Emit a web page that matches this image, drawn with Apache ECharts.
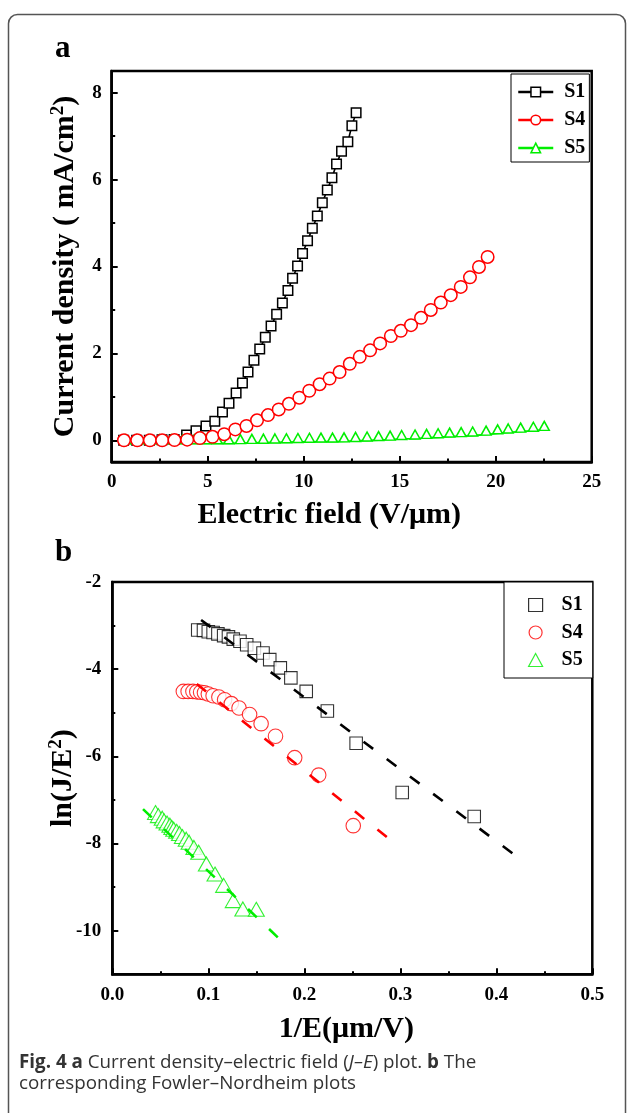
<!DOCTYPE html>
<html><head><meta charset="utf-8">
<script src="https://cdn.jsdelivr.net/npm/echarts@6/dist/echarts.min.js"></script>
<style>html,body{margin:0;padding:0;background:#fff}#c{width:629px;height:1113px}</style>
</head><body><div id="c"></div>
<script>
// ---- Panel a: J–E data ----
const jeX_S1 = [0.62,1.30,1.96,2.62,3.25,3.90,4.39,4.91,5.37,5.77,6.11,6.48,6.81,7.10,7.41,7.71,8.00,8.30,8.59,8.89,9.18,9.42,9.68,9.94,10.20,10.45,10.71,10.97,11.23,11.47,11.71,11.97,12.30,12.51,12.73];
const jeY_S1 = [0.00,0.00,0.00,0.01,0.02,0.12,0.22,0.33,0.44,0.65,0.85,1.09,1.32,1.57,1.84,2.10,2.37,2.63,2.90,3.16,3.45,3.73,4.01,4.30,4.59,4.88,5.16,5.47,5.76,6.04,6.36,6.65,6.87,7.24,7.54];
const jeX_S4 = [0.64,1.33,1.99,2.63,3.27,3.93,4.59,5.25,5.86,6.44,7.02,7.57,8.14,8.70,9.23,9.77,10.29,10.83,11.35,11.87,12.40,12.92,13.46,13.98,14.54,15.06,15.59,16.11,16.62,17.14,17.66,18.18,18.66,19.13,19.58];
const jeY_S4 = [0.00,0.00,0.00,0.00,0.005,0.015,0.05,0.08,0.14,0.25,0.33,0.46,0.58,0.71,0.84,0.98,1.14,1.29,1.42,1.57,1.76,1.92,2.07,2.23,2.40,2.52,2.65,2.82,3.00,3.17,3.34,3.53,3.75,3.99,4.22];
const jeX_S5 = [0.7,1.3,1.9,2.5,3.1,3.7,4.3,4.9,5.5,6.1,6.7,7.3,7.9,8.5,9.1,9.7,10.3,10.9,11.5,12.1,12.7,13.3,13.9,14.5,15.1,15.8,16.4,17.0,17.6,18.2,18.8,19.5,20.1,20.65,21.3,21.96,22.53];
const jeY_S5 = [-0.07,-0.07,-0.07,-0.07,-0.07,-0.07,-0.07,-0.07,-0.07,-0.07,-0.065,-0.06,-0.055,-0.05,-0.045,-0.04,-0.035,-0.03,-0.03,-0.025,-0.015,-0.005,0.005,0.015,0.03,0.04,0.055,0.07,0.085,0.095,0.11,0.13,0.16,0.18,0.20,0.22,0.24];
const jeYTicks = [0,2,4,6,8];
const jeYMinor = [1,3,5,7];

// ---- Panel b: Fowler–Nordheim data ----
const fnX_S1 = [0.089,0.095,0.100,0.105,0.110,0.116,0.121,0.126,0.133,0.140,0.148,0.157,0.164,0.175,0.186,0.202,0.224,0.254,0.302,0.377];
const fnY_S1 = [-3.10,-3.11,-3.14,-3.16,-3.19,-3.23,-3.26,-3.31,-3.36,-3.44,-3.52,-3.63,-3.78,-3.97,-4.20,-4.51,-4.96,-5.70,-6.83,-7.38];
const fnX_S4 = [0.074,0.079,0.084,0.088,0.092,0.096,0.100,0.105,0.111,0.117,0.124,0.132,0.143,0.155,0.170,0.190,0.215,0.251];
const fnY_S4 = [-4.51,-4.51,-4.51,-4.52,-4.53,-4.54,-4.57,-4.61,-4.64,-4.70,-4.79,-4.89,-5.04,-5.25,-5.54,-6.03,-6.43,-7.59];
const fnX_S5 = [0.045,0.048,0.052,0.054,0.057,0.060,0.062,0.064,0.067,0.070,0.073,0.077,0.080,0.085,0.090,0.098,0.107,0.116,0.126,0.136,0.150];
const fnY_S5 = [-7.29,-7.36,-7.42,-7.48,-7.53,-7.58,-7.63,-7.67,-7.72,-7.77,-7.84,-7.90,-7.97,-8.09,-8.20,-8.47,-8.70,-8.96,-9.31,-9.50,-9.51];
const fitX_S1 = [0.0925,0.419], fitY_S1 = [-2.87,-8.26];
const fitX_S4 = [0.088,0.292],  fitY_S4 = [-4.34,-7.96];
const fitX_S5 = [0.032,0.178],  fitY_S5 = [-7.21,-10.27];
const fnYTicks = [-10,-8,-6,-4,-2];
const fnYMinor = [-9,-7,-5,-3];

const legendNames = ['S1','S4','S5'];

const zip = (xs, ys) => xs.map((x, i) => [x, ys[i]]);
const SERIF = 'Liberation Serif';
const labelStyle = {fontFamily: SERIF, fontWeight: 'bold', fontSize: 19, color: '#000'};
const titleStyle = {fontFamily: SERIF, fontWeight: 'bold', fontSize: 30, color: '#000'};
const axisLineStyle = {onZero: false, lineStyle: {color: '#000', width: 2.5}};
const tickStyle = {color: '#000', width: 2};

const chart = echarts.init(document.getElementById('c'), null, {renderer: 'canvas'});
const supRich = {
  m: {fontFamily: SERIF, fontWeight: 'bold', fontSize: 30, color: '#000', verticalAlign: 'bottom', lineHeight: 32},
  s: {fontFamily: SERIF, fontWeight: 'bold', fontSize: 19, color: '#000', verticalAlign: 'top', lineHeight: 19}
};

const option = {
  animation: false,
  backgroundColor: '#fff',
  grid: [
    {left: 111.7, top: 71, width: 480, height: 391, show: true, borderColor: '#000', borderWidth: 2.5},
    {left: 112.3, top: 582, width: 480, height: 392.3, show: true, borderColor: '#000', borderWidth: 2.5}
  ],
  xAxis: [
    {gridIndex: 0, type: 'value', min: 0, max: 25, interval: 5,
     axisLine: axisLineStyle,
     axisTick: {inside: true, length: 6, lineStyle: tickStyle},
     minorTick: {show: true, splitNumber: 2, length: 3.5, lineStyle: tickStyle},
     splitLine: {show: false},
     axisLabel: Object.assign({margin: 11}, labelStyle),
     name: 'Electric field (V/μm)', nameLocation: 'middle', nameGap: 38, nameMoveOverlap: false,
     nameTextStyle: Object.assign({padding: [0, 45, 0, 0]}, titleStyle)},
    {gridIndex: 1, type: 'value', min: 0, max: 0.5, interval: 0.1,
     axisLine: axisLineStyle,
     axisTick: {inside: true, length: 6, lineStyle: tickStyle},
     minorTick: {show: true, splitNumber: 2, length: 3, lineStyle: tickStyle},
     splitLine: {show: false},
     axisLabel: Object.assign({margin: 11, formatter: v => v.toFixed(1)}, labelStyle),
     name: '1/E(μm/V)', nameLocation: 'middle', nameGap: 40, nameMoveOverlap: false,
     nameTextStyle: Object.assign({padding: [0, 12, 0, 0]}, titleStyle)}
  ],
  yAxis: [
    {gridIndex: 0, type: 'value', min: -0.5, max: 8.5, position: 'left',
     axisLine: axisLineStyle,
     axisTick: {inside: true, length: 6, lineStyle: tickStyle, customValues: jeYTicks},
     splitLine: {show: false},
     axisLabel: Object.assign({margin: 10, customValues: jeYTicks}, labelStyle),
     name: '{m|Current density ( mA/cm}{s|2}{m|)}', nameLocation: 'middle', nameGap: 31, nameMoveOverlap: false,
     nameTextStyle: Object.assign({rich: supRich, lineHeight: 44}, titleStyle)},
    {gridIndex: 0, type: 'value', min: -0.5, max: 8.5, position: 'left',
     axisLine: {show: false, onZero: false}, axisLabel: {show: false}, splitLine: {show: false},
     axisTick: {inside: true, length: 3.5, lineStyle: tickStyle, customValues: jeYMinor}},
    {gridIndex: 1, type: 'value', min: -11, max: -2, position: 'left',
     axisLine: axisLineStyle,
     axisTick: {inside: true, length: 6, lineStyle: tickStyle, customValues: fnYTicks},
     splitLine: {show: false},
     axisLabel: Object.assign({margin: 11, customValues: fnYTicks}, labelStyle),
     name: '{m|ln(J/E}{s|2}{m|)}', nameLocation: 'middle', nameGap: 34, nameMoveOverlap: false,
     nameTextStyle: Object.assign({rich: supRich, lineHeight: 44}, titleStyle)},
    {gridIndex: 1, type: 'value', min: -11, max: -2, position: 'left',
     axisLine: {show: false, onZero: false}, axisLabel: {show: false}, splitLine: {show: false},
     axisTick: {inside: true, length: 3, lineStyle: tickStyle, customValues: fnYMinor}}
  ],
  legend: [
    {data: legendNames, selectedMode: false, orient: 'vertical', left: 511, top: 74,
     padding: [8, 4, 4, 6], itemGap: 8, itemWidth: 35, itemHeight: 12,
     backgroundColor: '#fff', borderColor: '#000', borderWidth: 1,
     itemStyle: {borderWidth: 1.5}, lineStyle: {width: 2.5},
     textStyle: {fontFamily: SERIF, fontWeight: 'bold', fontSize: 20, color: '#000', padding: [0, 0, 0, 6]}},
    {data: legendNames.map(n => 'b:' + n), formatter: n => n.slice(2), selectedMode: false,
     orient: 'vertical', left: 504, top: 582,
     padding: [13, 10, 8, 24], itemGap: 7.5, itemWidth: 14, itemHeight: 13,
     backgroundColor: '#fff', borderColor: '#000', borderWidth: 1,
     itemStyle: {borderWidth: 1.2},
     textStyle: {fontFamily: SERIF, fontWeight: 'bold', fontSize: 20, color: '#000', padding: [0, 0, 0, 14]}}
  ],
  series: [
    {name: 'S1', type: 'line', xAxisIndex: 0, yAxisIndex: 0, data: zip(jeX_S1, jeY_S1), z: 2,
     symbol: 'rect', symbolSize: 9.5, itemStyle: {color: '#fff', borderColor: '#000', borderWidth: 1.5},
     lineStyle: {color: '#000', width: 1.6}, emphasis: {disabled: true}},
    {name: 'S5', type: 'line', xAxisIndex: 0, yAxisIndex: 0, data: zip(jeX_S5, jeY_S5), z: 3,
     symbol: 'triangle', symbolSize: [10, 9], symbolOffset: [0, -4],
     itemStyle: {color: '#fff', borderColor: '#00ee00', borderWidth: 1.5},
     lineStyle: {color: '#00ee00', width: 1.8}, emphasis: {disabled: true}},
    {name: 'S4', type: 'line', xAxisIndex: 0, yAxisIndex: 0, data: zip(jeX_S4, jeY_S4), z: 4,
     symbol: 'circle', symbolSize: 12.5, itemStyle: {color: '#fff', borderColor: '#ff0000', borderWidth: 1.5},
     lineStyle: {color: '#ff0000', width: 1.6}, emphasis: {disabled: true}},

    {name: 'b:S1', type: 'scatter', xAxisIndex: 1, yAxisIndex: 2, data: zip(fnX_S1, fnY_S1), z: 2,
     symbol: 'rect', symbolSize: 12.5, itemStyle: {color: '#fff', borderColor: '#000', borderWidth: 1.1},
     emphasis: {disabled: true}},
    {name: 'b:S4', type: 'scatter', xAxisIndex: 1, yAxisIndex: 2, data: zip(fnX_S4, fnY_S4), z: 2,
     symbol: 'circle', symbolSize: 14.5, itemStyle: {color: '#fff', borderColor: '#ff0000', borderWidth: 1.1},
     emphasis: {disabled: true}},
    {name: 'b:S5', type: 'scatter', xAxisIndex: 1, yAxisIndex: 2, data: zip(fnX_S5, fnY_S5), z: 2,
     symbol: 'triangle', symbolSize: [16, 14], itemStyle: {color: '#fff', borderColor: '#00ee00', borderWidth: 1.1},
     emphasis: {disabled: true}},
    {name: 'fitS1', type: 'line', xAxisIndex: 1, yAxisIndex: 2, data: zip(fitX_S1, fitY_S1), z: 5,
     symbol: 'none', lineStyle: {color: '#000', width: 2.6, type: [12, 17]}, emphasis: {disabled: true}},
    {name: 'fitS4', type: 'line', xAxisIndex: 1, yAxisIndex: 2, data: zip(fitX_S4, fitY_S4), z: 5,
     symbol: 'none', lineStyle: {color: '#ff0000', width: 2.6, type: [12, 17]}, emphasis: {disabled: true}},
    {name: 'fitS5', type: 'line', xAxisIndex: 1, yAxisIndex: 2, data: zip(fitX_S5, fitY_S5), z: 5,
     symbol: 'none', lineStyle: {color: '#00ee00', width: 2.6, type: [12, 17]}, emphasis: {disabled: true}}
  ],
  graphic: {elements: [
    {type: 'rect', silent: true, z: -1, shape: {x: 8.5, y: 14.5, width: 617, height: 1115, r: 9},
     style: {fill: 'none', stroke: '#555', lineWidth: 1.5}},
    {type: 'text', x: 55, y: 49, style: {text: 'a', fontFamily: SERIF, fontWeight: 'bold', fontSize: 31, fill: '#000', verticalAlign: 'middle'}},
    {type: 'text', x: 55, y: 553, style: {text: 'b', fontFamily: SERIF, fontWeight: 'bold', fontSize: 31, fill: '#000', verticalAlign: 'middle'}},
    {type: 'text', x: 19, y: 1052, style: {
      text: '{b|Fig. 4 a} Current density–electric field ({i|J–E}) plot. {b|b} The\ncorresponding Fowler–Nordheim plots',
      fontFamily: 'Open Sans', fontSize: 18.8, fill: '#333', lineHeight: 21, verticalAlign: 'top',
      rich: {
        b: {fontFamily: 'Open Sans', fontSize: 18.8, fontWeight: 'bold', fill: '#333', lineHeight: 21},
        i: {fontFamily: 'Open Sans', fontSize: 18.8, fontStyle: 'italic', fill: '#333', lineHeight: 21}
      }}}
  ]}
};
chart.setOption(option);
</script>
</body></html>
